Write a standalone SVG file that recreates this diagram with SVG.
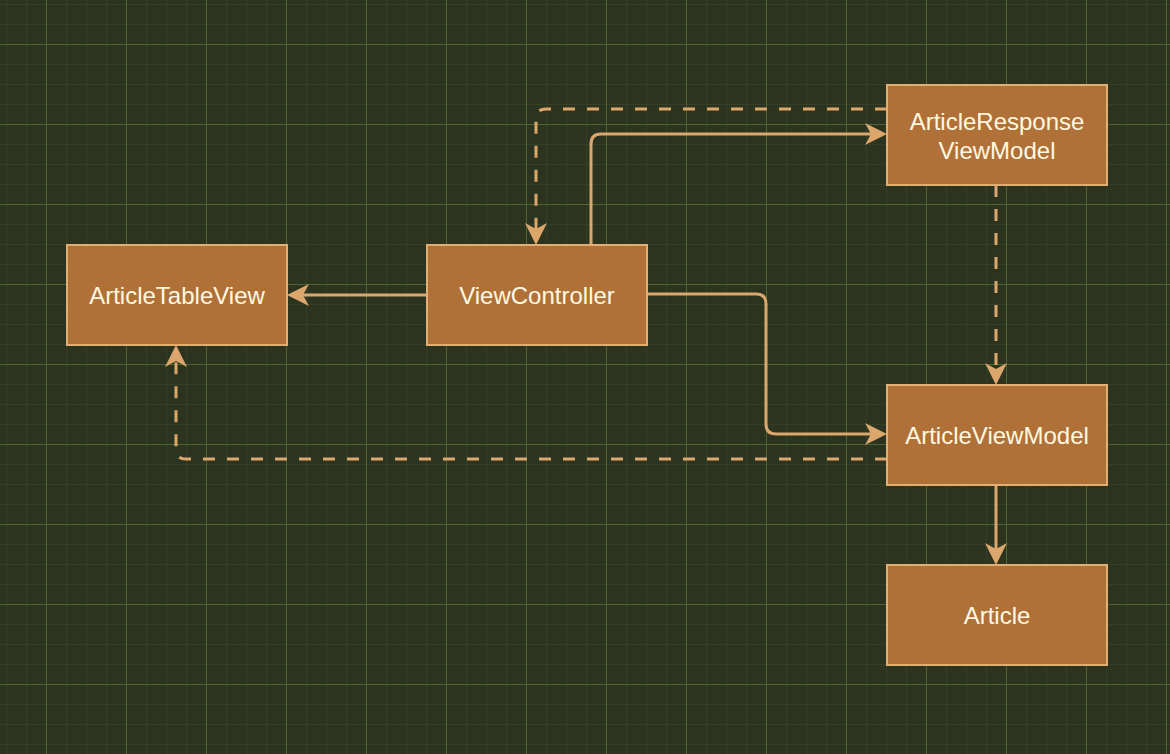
<svg xmlns="http://www.w3.org/2000/svg" width="1170" height="754" viewBox="0 0 1170 754">
<style>
.node rect{fill:#b07138;stroke:#e3ae74;stroke-width:2}
.node text{font-family:"Liberation Sans",Arial,sans-serif;font-size:24px;fill:#fff8e0;text-anchor:middle;dominant-baseline:central}
.edge{fill:none;stroke:#dca76c;stroke-width:3}
.dash{stroke-dasharray:12 12}
</style>
<defs>
<pattern id="grid" patternUnits="userSpaceOnUse" x="6" y="4" width="80" height="80">
<rect width="80" height="80" fill="#2c3420"/>
<g fill="#343f27">
<rect x="0" y="0" width="1" height="80"/>
<rect x="20" y="0" width="1" height="80"/>
<rect x="60" y="0" width="1" height="80"/>
<rect x="0" y="0" width="80" height="1"/>
<rect x="0" y="20" width="80" height="1"/>
<rect x="0" y="60" width="80" height="1"/>
</g>
<g fill="#4c6532">
<rect x="40" y="0" width="1" height="80"/>
<rect x="0" y="40" width="80" height="1"/>
</g>
</pattern>
<marker id="arr" markerUnits="userSpaceOnUse" markerWidth="26" markerHeight="26" viewBox="0 -13 26 26" refX="6" refY="0" orient="auto">
<path d="M0,-11 L22,0 L0,11 L6,0 Z" fill="#dca76c"/>
</marker>
</defs>
<rect width="1170" height="754" fill="url(#grid)"/>
<g id="connectors">
<path class="edge" d="M427,295 H303" marker-end="url(#arr)"/>
<path class="edge" d="M591,245 V144 Q591,134 601,134 H871" marker-end="url(#arr)"/>
<path class="edge" d="M647,294 H756 Q766,294 766,304 V424 Q766,434 776,434 H871" marker-end="url(#arr)"/>
<path class="edge dash" d="M887,109 H546 Q536,109 536,119 V229" marker-end="url(#arr)"/>
<path class="edge dash" d="M996,185 V369" marker-end="url(#arr)"/>
<path class="edge dash" d="M887,459 H186 Q176,459 176,449 V361" marker-end="url(#arr)"/>
<path class="edge" d="M996,485 V549" marker-end="url(#arr)"/>
</g>
<g id="ArticleTableView" class="node"><rect x="67" y="245" width="220" height="100"/><text x="177" y="295">ArticleTableView</text></g>
<g id="ViewController" class="node"><rect x="427" y="245" width="220" height="100"/><text x="537" y="295">ViewController</text></g>
<g id="ArticleResponseViewModel" class="node"><rect x="887" y="85" width="220" height="100"/><text x="997" y="121">ArticleResponse</text><text x="997" y="150">ViewModel</text></g>
<g id="ArticleViewModel" class="node"><rect x="887" y="385" width="220" height="100"/><text x="997" y="435">ArticleViewModel</text></g>
<g id="Article" class="node"><rect x="887" y="565" width="220" height="100"/><text x="997" y="615">Article</text></g>
</svg>
